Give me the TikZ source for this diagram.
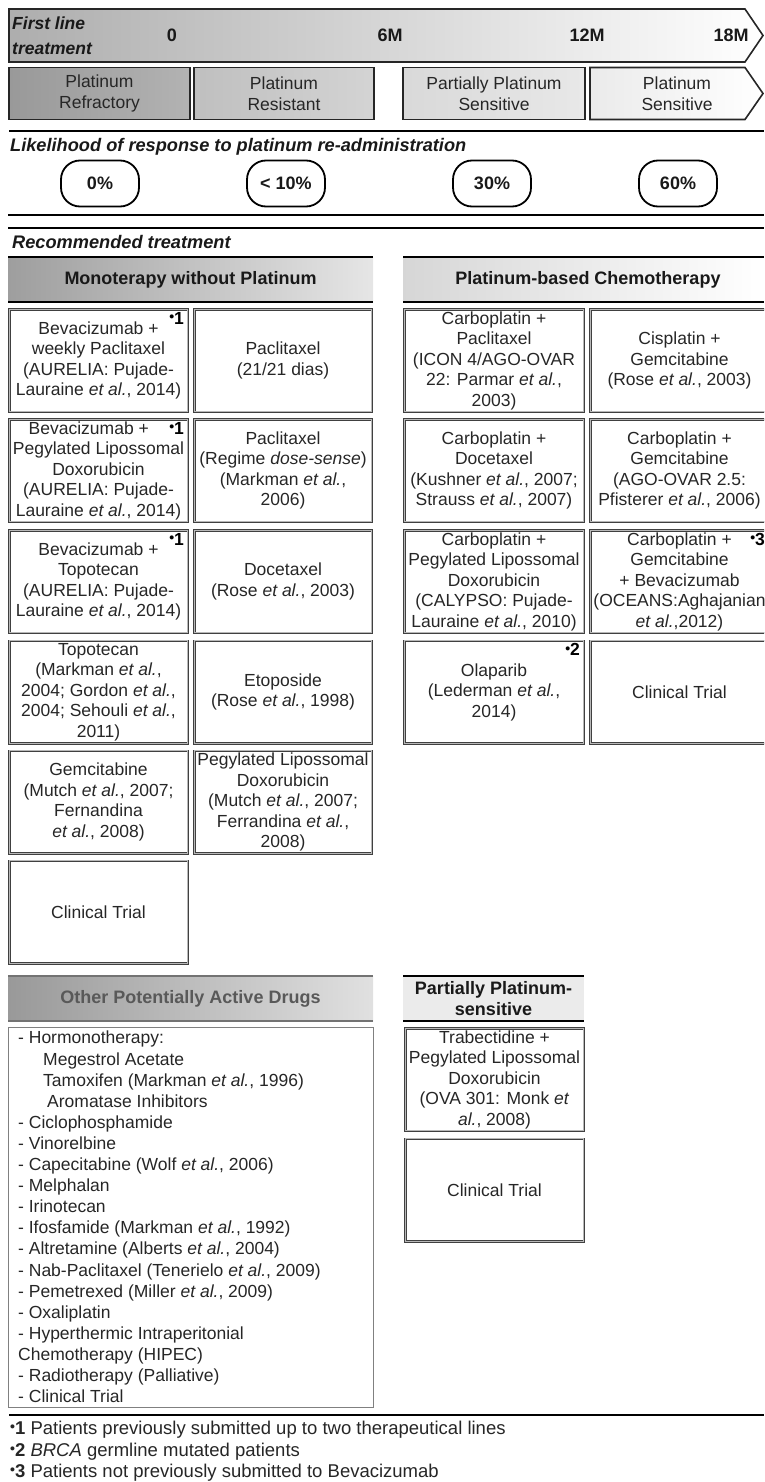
\documentclass[tikz,border=0pt]{standalone}
\usepackage{fontspec}
\setmainfont{Liberation Sans}
\usetikzlibrary{positioning}

\newcommand{\fnsym}[1]{{\raisebox{0.3ex}{\fontsize{14}{14}\selectfont\bfseries\textbullet}\textbf{#1}}}
\newcommand{\etal}{\textit{et al.}}

\begin{document}
\begin{tikzpicture}[x=1pt, y=-1pt,
    txt/.style={font=\fontsize{17.5}{20.5}\selectfont, text=black!85, inner sep=0pt, align=center},
    boldtxt/.style={font=\fontsize{18}{21}\selectfont\bfseries, text=black!90, inner sep=0pt, align=center},
    cell/.style={txt, draw=black!75, line width=0.8pt, double=black!28, double distance=0.9pt, minimum height=102.5pt},
    cellA/.style={cell, minimum width=178.5pt},
    cellB/.style={cell, minimum width=177.5pt},
    phase/.style={txt, draw=black!85, line width=1.6pt, minimum height=52pt},
    pct/.style={boldtxt, draw=black, line width=1.8pt, rounded corners=19pt, minimum width=78pt, minimum height=46pt},
    fnote/.style={inner sep=1pt, font=\fontsize{17.5}{20.5}\selectfont},
    hrule/.style={line width=2.2pt}]

    \useasboundingbox (0,0) rectangle (764,1482);
    \clip (0,0) rectangle (764,1482);

    % Time line band
    \draw[left color=black!32, right color=white, draw=black!85, line width=1.6pt]
        (9,9) -- (745,9) -- (763,35.5) -- (745,62) -- (9,62) -- cycle;
    \node[boldtxt, font=\fontsize{17.5}{25}\selectfont\bfseries\itshape, align=left, anchor=west] (firstline) at (12,35.5) {First line\\treatment};
    \node[boldtxt] (t0) at (172,35) {0};
    \node[boldtxt] (t6) at (390,35) {6M};
    \node[boldtxt] (t12) at (587,35) {12M};
    \node[boldtxt] (t18) at (731,35) {18M};

    % Platinum status
    \node[phase, minimum width=181pt, left color=black!40, right color=black!30] (refr) at (99.5,93.5) {Platinum\\Refractory};
    \node[phase, minimum width=180pt, left color=black!25, right color=black!17] (resist) at (284,93.5) {Platinum\\Resistant};
    \node[phase, minimum width=182pt, left color=black!15, right color=black!9] (partial) at (494,93.5) {Partially Platinum\\Sensitive};
    \draw[left color=black!8, right color=white, draw=black!85, line width=1.6pt]
        (590,67.5) -- (745,67.5) -- (763,93.5) -- (745,119.5) -- (590,119.5) -- cycle;
    \node[txt] (sens) at (677,93.5) {Platinum\\Sensitive};

    \draw[hrule] (9,131) -- (764,131);

    % Likelihood of response
    \node[boldtxt, font=\fontsize{18.2}{21}\selectfont\bfseries\itshape, anchor=west] (likely) at (10,147) {Likelihood of response to platinum re-administration};
    \node[pct] (p0) at (100,183.5) {0\%};
    \node[pct] (p10) at (286,183.5) {< 10\%};
    \node[pct] (p30) at (492,183.5) {30\%};
    \node[pct] (p60) at (678,183.5) {60\%};

    \draw[hrule] (8,215) -- (764,215);
    \draw[hrule] (8,228) -- (764,228);

    % Recommended treatment
    \node[boldtxt, font=\fontsize{18.2}{21}\selectfont\bfseries\itshape, anchor=west] (recom) at (12,242) {Recommended treatment};

    \fill[left color=black!38, right color=black!10] (8,257) rectangle (373,302);
    \draw[hrule] (8,257) -- (373,257) (8,302) -- (373,302);
    \node[boldtxt] (monohead) at (190.5,279.5) {Monoterapy without Platinum};

    \fill[left color=black!16, right color=white] (403,257) rectangle (764,302);
    \draw[hrule] (403,257) -- (764,257) (403,302) -- (764,302);
    \node[boldtxt] (plathead) at (588,279.5) {Platinum-based Chemotherapy};

    % Monotherapy column
    \node[cellA] (mono1a) at (98.5,360.5) {Bevacizumab +\\weekly Paclitaxel\\(AURELIA: Pujade-\\Lauraine \etal, 2014)};
    \node[cellB] (mono1b) at (283,360.5) {Paclitaxel\\(21/21 dias)};
    \node[cellA] (mono2a) at (98.5,470.5) {Bevacizumab +\phantom{00}\\Pegylated Lipossomal\\Doxorubicin\\(AURELIA: Pujade-\\Lauraine \etal, 2014)};
    \node[cellB] (mono2b) at (283,470.5) {Paclitaxel\\(Regime \textit{dose-sense})\\(Markman \etal,\\2006)};
    \node[cellA] (mono3a) at (98.5,581.5) {Bevacizumab +\\Topotecan\\(AURELIA: Pujade-\\Lauraine \etal, 2014)};
    \node[cellB] (mono3b) at (283,581.5) {Docetaxel\\(Rose \etal, 2003)};
    \node[cellA] (mono4a) at (98.5,692) {Topotecan\\(Markman \etal,\\2004; Gordon \etal,\\2004; Sehouli \etal,\\2011)};
    \node[cellB] (mono4b) at (283,692) {Etoposide\\(Rose \etal, 1998)};
    \node[cellA] (mono5a) at (98.5,802) {Gemcitabine\\(Mutch \etal, 2007;\\Fernandina\\\etal, 2008)};
    \node[cellB] (mono5b) at (283,802) {Pegylated Lipossomal\\Doxorubicin\\(Mutch \etal, 2007;\\Ferrandina \etal,\\2008)};
    \node[cellA] (mono6a) at (98.5,912) {Clinical Trial};

    \node[fnote, anchor=north east] (m1a) at ([xshift=-3pt, yshift=-2pt]mono1a.north east) {\fnsym{1}};
    \node[fnote, anchor=north east] (m2a) at ([xshift=-3pt, yshift=-2pt]mono2a.north east) {\fnsym{1}};
    \node[fnote, anchor=north east] (m3a) at ([xshift=-3pt, yshift=-2pt]mono3a.north east) {\fnsym{1}};

    % Platinum-based column
    \node[cellA, minimum width=179.5pt] (plat1a) at (494,360.5) {Carboplatin +\\Paclitaxel\\(ICON 4/AGO-OVAR\\22: Parmar \etal,\\2003)};
    \node[cellA] (plat1b) at (679.5,360.5) {Cisplatin +\\Gemcitabine\\(Rose \etal, 2003)};
    \node[cellA, minimum width=179.5pt] (plat2a) at (494,470.5) {Carboplatin +\\Docetaxel\\(Kushner \etal, 2007;\\Strauss \etal, 2007)};
    \node[cellA] (plat2b) at (679.5,470.5) {Carboplatin +\\Gemcitabine\\(AGO-OVAR 2.5:\\Pfisterer \etal, 2006)};
    \node[cellA, minimum width=179.5pt] (plat3a) at (494,581.5) {Carboplatin +\\Pegylated Lipossomal\\Doxorubicin\\(CALYPSO: Pujade-\\Lauraine \etal, 2010)};
    \node[cellA] (plat3b) at (679.5,581.5) {Carboplatin +\\Gemcitabine\\+ Bevacizumab\\(OCEANS:Aghajanian\\\etal,2012)};
    \node[cellA, minimum width=179.5pt] (plat4a) at (494,692) {Olaparib\\(Lederman \etal,\\2014)};
    \node[cellA] (plat4b) at (679.5,692) {Clinical Trial};

    \node[fnote, anchor=north east] (m3b) at ([xshift=-3pt, yshift=-2pt]plat3b.north east) {\fnsym{3}};
    \node[fnote, anchor=north east] (m4a) at ([xshift=-3pt, yshift=-2pt]plat4a.north east) {\fnsym{2}};

    % Other drugs
    \fill[left color=black!40, right color=black!12] (8,976) rectangle (373,1021);
    \draw[line width=1.4pt, black!55] (8,976) -- (373,976) (8,1021) -- (373,1021);
    \node[boldtxt, text=black!65] (otherhead) at (190.5,998.5) {Other Potentially Active Drugs};
    \draw[black!50, line width=1pt] (8,1027) rectangle (373,1407);
    \node[txt, font=\fontsize{17.5}{21.1}\selectfont, align=left, anchor=west] (otherlist) at (18,1217) {%
        - Hormonotherapy:\\
        \hspace*{25pt}Megestrol Acetate\\
        \hspace*{25pt}Tamoxifen (Markman \etal, 1996)\\
        \hspace*{29pt}Aromatase Inhibitors\\
        - Ciclophosphamide\\
        - Vinorelbine\\
        - Capecitabine (Wolf \etal, 2006)\\
        - Melphalan\\
        - Irinotecan\\
        - Ifosfamide (Markman \etal, 1992)\\
        - Altretamine (Alberts \etal, 2004)\\
        - Nab-Paclitaxel (Tenerielo \etal, 2009)\\
        - Pemetrexed (Miller \etal, 2009)\\
        - Oxaliplatin\\
        - Hyperthermic Intraperitonial\\
        Chemotherapy (HIPEC)\\
        - Radiotherapy (Palliative)\\
        - Clinical Trial};

    % Partially platinum-sensitive
    \fill[black!8] (403,976) rectangle (584,1021);
    \draw[hrule] (403,976) -- (584,976) (403,1021) -- (584,1021);
    \node[boldtxt] (parthead) at (493.5,998.5) {Partially Platinum-\\sensitive};
    \node[cellA] (part1) at (494.5,1079.5) {Trabectidine +\\Pegylated Lipossomal\\Doxorubicin\\(OVA 301: Monk \textit{et}\\\textit{al.}, 2008)};
    \node[cellA] (part2) at (494.5,1190) {Clinical Trial};

    % Footnotes
    \draw[hrule] (9,1415) -- (764,1415);
    \node[txt, font=\fontsize{18.5}{21.5}\selectfont, align=left, anchor=west] (notes) at (10,1451.5) {%
        \fnsym{1} Patients previously submitted up to two therapeutical lines\\
        \fnsym{2} \textit{BRCA} germline mutated patients\\
        \fnsym{3} Patients not previously submitted to Bevacizumab};
\end{tikzpicture}
\end{document}
